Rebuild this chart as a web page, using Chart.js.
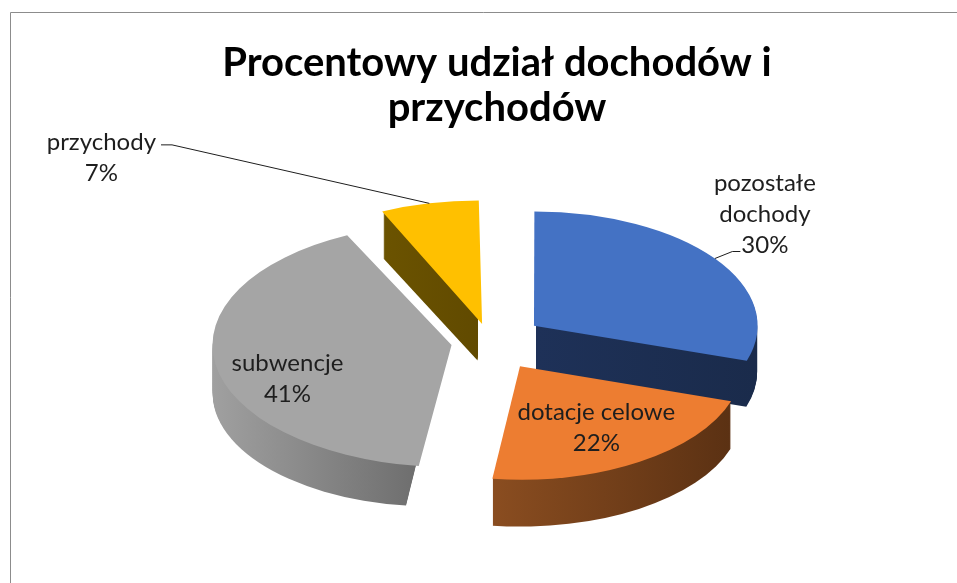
<!DOCTYPE html>
<html>
<head>
<meta charset="utf-8">
<script src="https://cdn.jsdelivr.net/npm/chart.js@4.4.1/dist/chart.umd.min.js"></script>
<style>
  html, body { margin: 0; padding: 0; background: #fff; }
  #wrap { width: 957px; height: 583px; position: relative; }
</style>
</head>
<body>
<div id="wrap"><canvas id="pie"></canvas></div>
<script>
// data
var categories = ['pozostałe dochody', 'dotacje celowe', 'subwencje', 'przychody'];
var labelLines = [['pozostałe', 'dochody'], ['dotacje celowe'], ['subwencje'], ['przychody']];
var shares = [30, 22, 41, 7];
var titleLines = ['Procentowy udział dochodów i', 'przychodów'];

// look
var topColors = ['#4472C4', '#ED7D31', '#A5A5A5', '#FFC000'];
var sideColors = [['#1e3158', '#1a2b4b'], ['#8a4d20', '#5b3113'], ['#a0a0a0', '#6a6a6a'], ['#6b5300', '#614a00']];
var tilt = 0.511;     // vertical squash of the pie
var depth = 47;       // thickness in px
var explode = 57;     // distance each slice is pulled out
var shiftX = -7;      // pie sits a bit left of the title centre

// per-slice label placement
var labelSpots = [
  {outside: true, dx: 50, dy: -44, tail: 'left'},
  {r: 0.64, dy: 0},
  {r: 0.67, dy: 20},
  {outside: true, dx: -328, dy: -46, tail: 'right'}
];

var total = shares.reduce(function(a, b){ return a + b; }, 0);

// chart.js v4 moves an arc by offset/4 * (2 - sin(circ)), so undo that
var offsets = shares.map(function(v){
  var circ = v / total * Math.PI * 2;
  return 4 * explode / (2 - Math.sin(Math.min(Math.PI, circ)));
});

function sliceGeom(arc){
  var p = arc.getProps(['x', 'y', 'startAngle', 'endAngle', 'outerRadius', 'circumference'], true);
  var mid = (p.startAngle + p.endAngle) / 2;
  var off = (arc.options.offset || 0) / 4;
  var t = off * (2 - Math.sin(Math.min(Math.PI, p.circumference)));
  return {
    cx: p.x + Math.cos(mid) * t, cy: p.y + Math.sin(mid) * t,
    r: p.outerRadius, a0: p.startAngle, a1: p.endAngle, mid: mid
  };
}

var frame = {
  id: 'frame',
  beforeDraw: function(chart){
    var ctx = chart.ctx;
    ctx.save();
    ctx.strokeStyle = '#8c8c8c';
    ctx.lineWidth = 1;
    ctx.beginPath();
    ctx.moveTo(10.5, chart.height);
    ctx.lineTo(10.5, 12.5);
    ctx.lineTo(chart.width, 12.5);
    ctx.stroke();
    ctx.restore();
  }
};

var pie3d = {
  id: 'pie3d',
  beforeDatasetsDraw: function(chart){
    var ctx = chart.ctx;
    var arcs = chart.getDatasetMeta(0).data;
    var ox = arcs[0].x, oy = arcs[0].y;
    ctx.save();
    ctx.translate(ox + shiftX, oy);
    ctx.scale(1, tilt);
    ctx.translate(-ox, -oy);

    arcs.forEach(function(arc, i){
      var g = sliceGeom(arc);
      var minX = g.cx, maxX = g.cx;
      for (var s = 0; s <= 40; s++) {
        var a = g.a0 + (g.a1 - g.a0) * s / 40;
        var x = g.cx + Math.cos(a) * g.r;
        if (x < minX) minX = x;
        if (x > maxX) maxX = x;
      }
      var grad = ctx.createLinearGradient(minX, 0, maxX, 0);
      grad.addColorStop(0, sideColors[i][0]);
      grad.addColorStop(1, sideColors[i][1]);
      ctx.fillStyle = grad;
      for (var d = depth; d > 0; d--) {
        var yy = g.cy + d / tilt;
        ctx.beginPath();
        ctx.moveTo(g.cx, yy);
        ctx.arc(g.cx, yy, g.r, g.a0, g.a1);
        ctx.closePath();
        ctx.fill();
      }
    });
  },
  afterDatasetsDraw: function(chart){
    var ctx = chart.ctx;
    ctx.restore();

    var arcs = chart.getDatasetMeta(0).data;
    var oy = arcs[0].y;
    var lh = 31;
    function proj(x, y){ return [x + shiftX, oy + (y - oy) * tilt]; }

    ctx.save();
    ctx.font = '24px Lato';
    ctx.fillStyle = '#1e1e1e';
    ctx.strokeStyle = '#1e1e1e';
    ctx.lineWidth = 1;
    ctx.textAlign = 'center';
    ctx.textBaseline = 'middle';

    arcs.forEach(function(arc, i){
      var g = sliceGeom(arc);
      var spot = labelSpots[i];
      var lines = labelLines[i].concat([shares[i] + '%']);
      var lx, ly;
      var edge = proj(g.cx + Math.cos(g.mid) * g.r, g.cy + Math.sin(g.mid) * g.r);
      if (spot.outside) {
        lx = edge[0] + spot.dx;
        ly = edge[1] + spot.dy;
      } else {
        var c = proj(g.cx + Math.cos(g.mid) * g.r * spot.r, g.cy + Math.sin(g.mid) * g.r * spot.r);
        lx = c[0];
        ly = c[1] + spot.dy;
      }
      var top = ly - (lines.length - 1) * lh / 2;
      lines.forEach(function(t, k){ ctx.fillText(t, lx, top + k * lh); });

      if (spot.outside) {
        ctx.beginPath();
        ctx.moveTo(edge[0], edge[1]);
        if (spot.tail === 'left') {
          var last = lines[lines.length - 1];
          var lx0 = lx - ctx.measureText(last).width / 2;
          var yl = top + (lines.length - 1) * lh + 6;
          ctx.lineTo(lx0 - 9, yl);
          ctx.lineTo(lx0 - 1, yl);
        } else {
          var rx0 = lx + ctx.measureText(lines[0]).width / 2;
          var yr = top + 3;
          ctx.lineTo(rx0 + 16, yr);
          ctx.lineTo(rx0 + 5, yr);
        }
        ctx.stroke();
      }
    });
    ctx.restore();
  }
};

new Chart(document.getElementById('pie'), {
  type: 'pie',
  data: {
    labels: categories,
    datasets: [{
      data: shares,
      backgroundColor: topColors,
      borderWidth: 0,
      offset: offsets,
      clip: false
    }]
  },
  options: {
    responsive: true,
    maintainAspectRatio: false,
    animation: false,
    events: [],
    radius: 221,
    layout: { padding: { left: 37, right: 0, top: 0, bottom: 31.5 } },
    plugins: {
      legend: { display: false },
      tooltip: { enabled: false },
      title: {
        display: true,
        text: titleLines,
        color: '#000',
        font: { family: 'Lato', size: 40, weight: 'bold', lineHeight: '45px' },
        padding: { top: 41, bottom: 1.5 }
      }
    }
  },
  plugins: [frame, pie3d]
});
</script>
</body>
</html>
